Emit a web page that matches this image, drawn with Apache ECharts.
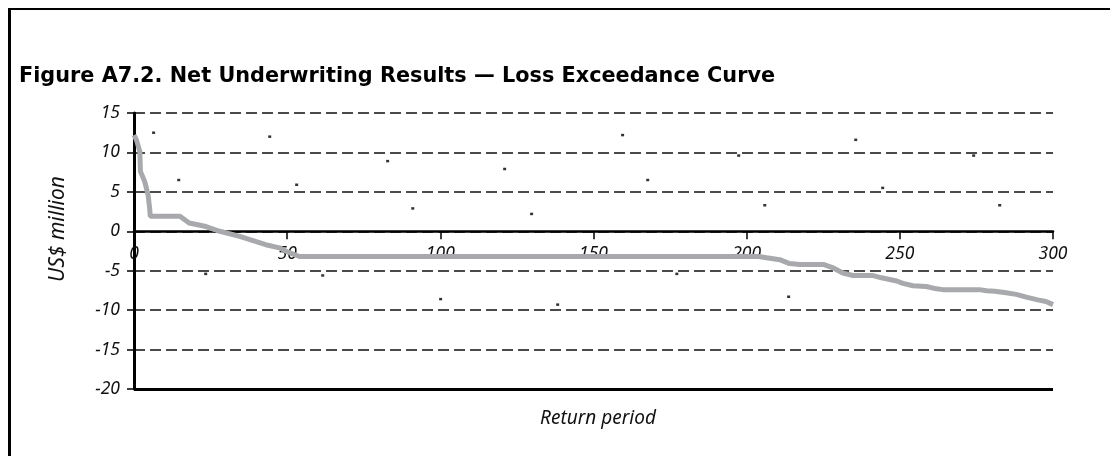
<!DOCTYPE html>
<html>
<head>
<meta charset="utf-8">
<script src="https://cdn.jsdelivr.net/npm/echarts@6/dist/echarts.min.js"></script>
<style>
  html, body { margin: 0; padding: 0; background: #fff; }
  #chart { position: absolute; left: 0; top: 0; width: 1110px; height: 456px; }
  #frame { position: absolute; left: 8px; top: 8px; right: 0; bottom: 0;
           border-top: 2px solid #000; border-left: 3px solid #000; pointer-events: none; }
</style>
</head>
<body>
<div id="chart"></div>
<div id="frame"></div>
<script>
// Loss exceedance curve (return period vs net underwriting result, US$ million)
const curveX = [0, 0.8, 1.9, 2.1, 3.5, 4.6, 5.1, 5.3, 15, 18, 23.5, 28, 34.5, 43, 47.5, 50, 54,
  204, 206.5, 210.8, 214, 217.4, 225, 228, 231.4, 234.7, 241, 244, 249, 251, 254.3, 258.6, 262, 264,
  276, 278.3, 281, 284.7, 288, 291.3, 295, 297.7, 300];
const curveY = [12.2, 11.6, 10.1, 7.6, 6.3, 4.6, 2.95, 1.9, 1.9, 1.05, 0.6, 0, -0.65, -1.7, -2.1, -2.6, -3.2,
  -3.2, -3.35, -3.6, -4.1, -4.2, -4.2, -4.6, -5.3, -5.6, -5.6, -5.9, -6.3, -6.6, -6.9, -7.0, -7.3, -7.4,
  -7.4, -7.55, -7.6, -7.8, -8.0, -8.35, -8.7, -8.9, -9.3];

// stray small dots in the source figure
const dotX = [6.4, 14.6, 23.4, 44.3, 53.1, 61.6, 82.8, 91.0, 100.1, 121.0, 129.8, 138.3,
  159.5, 167.7, 177.2, 197.4, 205.9, 213.7, 235.6, 244.4, 274.1, 282.6];
const dotY = [12.5, 6.5, -5.4, 12.0, 5.9, -5.6, 8.9, 2.9, -8.6, 7.9, 2.2, -9.3,
  12.2, 6.5, -5.4, 9.6, 3.3, -8.3, 11.6, 5.5, 9.6, 3.3];

const xTicks = { min: 0, max: 300, interval: 50 };
const yTicks = { min: -20, max: 15, interval: 5 };

const titleText = 'Figure A7.2. Net Underwriting Results \u2014 Loss Exceedance Curve';
const xName = 'Return period';
const yName = 'US$ million';

const FONT = '"Noto Sans", "Open Sans", sans-serif';
const GRID_TOP = 113, GRID_BOTTOM = 67, H = 456;
const gridH = H - GRID_TOP - GRID_BOTTOM;
// x axis sits on the zero line: shift it up from the grid bottom
const zeroOffset = -gridH * (0 - yTicks.min) / (yTicks.max - yTicks.min);

const chart = echarts.init(document.getElementById('chart'), null, { renderer: 'canvas' });
chart.setOption({
  animation: false,
  backgroundColor: '#ffffff',
  title: [{
    text: titleText,
    left: 14, top: 61,
    textStyle: { fontFamily: '"DejaVu Sans", sans-serif', fontWeight: 'bold', fontSize: 20.8, color: '#000' }
  }, {
    text: xName,
    left: 593, textAlign: 'center', top: 404,
    textStyle: { fontFamily: FONT, fontStyle: 'italic', fontWeight: 'normal', fontSize: 19, color: '#111' }
  }],
  grid: { left: 134, right: 57, top: GRID_TOP, bottom: GRID_BOTTOM, containLabel: false },
  xAxis: {
    type: 'value', min: xTicks.min, max: xTicks.max, interval: xTicks.interval,
    position: 'bottom', offset: zeroOffset,
    axisLine: { onZero: false, lineStyle: { color: '#000', width: 2.5 } },
    axisTick: { show: true, inside: false, length: 8, lineStyle: { color: '#000', width: 1.5 } },
    axisLabel: { margin: 14, fontFamily: FONT, fontStyle: 'italic', fontSize: 17.5, color: '#111' },
    splitLine: { show: false }
  },
  yAxis: {
    type: 'value', min: yTicks.min, max: yTicks.max, interval: yTicks.interval,
    axisLine: { show: true, onZero: false, lineStyle: { color: '#000', width: 3 } },
    axisTick: { show: true, inside: false, length: 7, lineStyle: { color: '#000', width: 1.5 } },
    axisLabel: { margin: 14, fontFamily: FONT, fontStyle: 'italic', fontSize: 17.5, color: '#111' },
    splitLine: { show: true, lineStyle: { color: '#4a4a4a', width: 2, type: [11, 5] } }
  },
  graphic: [{
    type: 'text', left: 48, top: 176, rotation: Math.PI / 2,
    style: { text: yName, font: 'italic 21px "Noto Sans", sans-serif', fill: '#111' }
  }],
  series: [{
    type: 'line',
    data: curveX.map((x, i) => [x, curveY[i]]),
    showSymbol: false, symbol: 'none',
    lineStyle: { color: '#a7a9ac', width: 5 },
    z: 3,
    markLine: {
      silent: true, symbol: ['none', 'none'], label: { show: false },
      lineStyle: { color: '#000', width: 3, type: 'solid' },
      data: [{ yAxis: yTicks.min }]
    }
  }, {
    type: 'scatter',
    data: dotX.map((x, i) => [x, dotY[i]]),
    symbol: 'rect', symbolSize: [3, 2.5],
    itemStyle: { color: '#000' },
    z: 4
  }]
});
</script>
</body>
</html>
